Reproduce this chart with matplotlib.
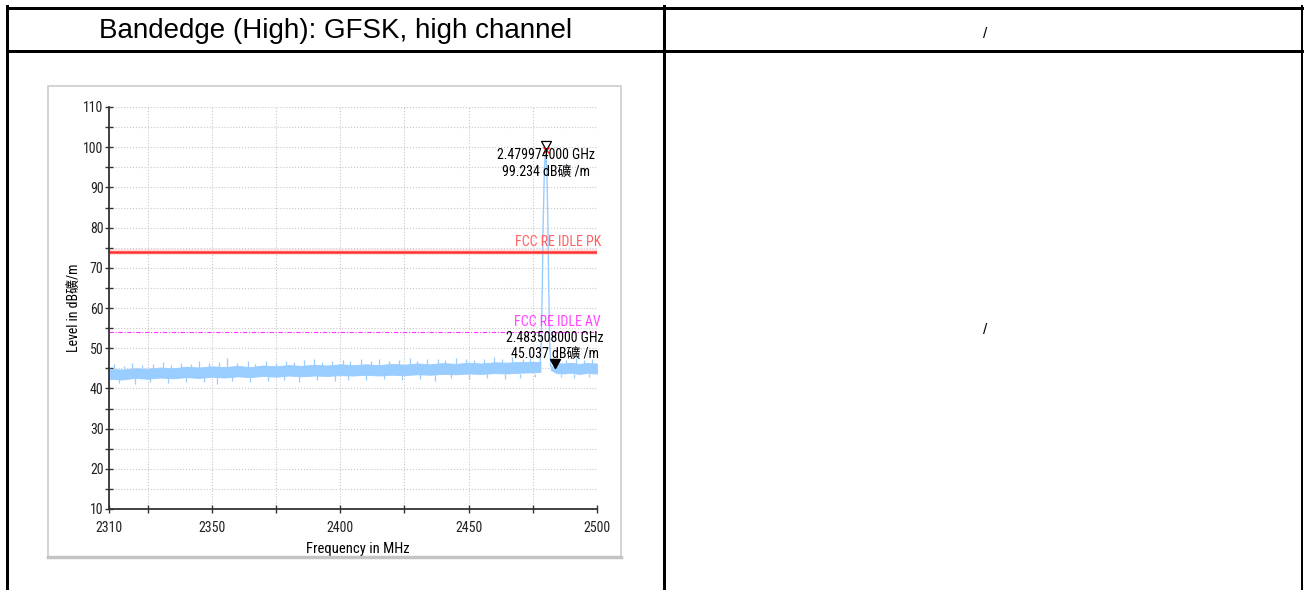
import matplotlib
matplotlib.use('Agg')
import matplotlib.pyplot as plt
from matplotlib import font_manager
from matplotlib.lines import Line2D
from matplotlib.patches import Rectangle
from matplotlib.path import Path

W, H = 1304, 590

# noise floor of the sweep, lower / upper edge of the dense part (MHz, dBuV/m)
noise_freq = [2310, 2315, 2320, 2325, 2330, 2335, 2340, 2345, 2350, 2355, 2360, 2365,
              2370, 2375, 2380, 2385, 2390, 2395, 2400, 2405, 2410, 2415, 2420, 2425,
              2430, 2435, 2440, 2445, 2450, 2455, 2460, 2465, 2470, 2475, 2478]
noise_low = [42.4, 42.2, 42.6, 42.4, 42.7, 42.5, 42.8, 42.6, 42.9, 42.7, 43.0, 42.8,
             43.1, 42.9, 43.2, 43.0, 43.2, 43.1, 43.3, 43.2, 43.4, 43.2, 43.4, 43.3,
             43.5, 43.4, 43.6, 43.5, 43.7, 43.6, 43.8, 43.7, 43.9, 44.0, 44.1]
noise_high = [44.9, 44.7, 45.0, 44.9, 45.2, 45.0, 45.4, 45.2, 45.5, 45.3, 45.6, 45.3,
              45.7, 45.5, 45.8, 45.6, 45.9, 45.7, 46.0, 45.8, 46.0, 45.8, 46.1, 45.9,
              46.2, 46.0, 46.3, 46.1, 46.4, 46.2, 46.5, 46.4, 46.6, 46.6, 46.6]

# noise floor above the band edge
upper_freq = [2482.0, 2483.0, 2484.0, 2487, 2490, 2493, 2496, 2500]
upper_low = [44.5, 44.3, 43.8, 43.7, 43.9, 43.6, 43.8, 43.7]
upper_high = [45.6, 45.4, 46.3, 46.2, 46.4, 46.1, 46.3, 46.2]

# single spikes sticking out of the noise
spike_freq = [2312, 2316, 2319, 2323, 2327, 2331, 2334, 2338, 2342, 2345, 2349, 2353,
              2356, 2360, 2364, 2367, 2371, 2375, 2379, 2382, 2386, 2390, 2393, 2397,
              2401, 2404, 2408, 2412, 2415, 2419, 2423, 2427, 2430, 2434, 2438, 2441,
              2445, 2449, 2452, 2456, 2460, 2463, 2467, 2471, 2474, 2485, 2488, 2492,
              2495, 2498]
spike_top = [46.0, 45.6, 46.3, 45.8, 46.1, 46.6, 45.9, 46.4, 46.0, 46.9, 46.2, 46.5,
             47.6, 46.3, 46.7, 46.1, 46.8, 46.4, 46.9, 46.5, 47.0, 47.3, 46.6, 46.9,
             47.1, 46.7, 47.4, 46.8, 47.2, 46.9, 47.0, 47.5, 46.9, 47.2, 47.3, 47.0,
             47.6, 47.4, 47.1, 47.3, 47.7, 47.2, 47.9, 47.4, 47.6, 47.3, 47.0, 47.5,
             47.1, 47.3]
dip_freq = [2314, 2320, 2326, 2333, 2340, 2347, 2352, 2358, 2365, 2372, 2378, 2384,
            2391, 2398, 2403, 2410, 2417, 2424, 2431, 2437, 2443, 2450, 2457, 2464,
            2470, 2476, 2486, 2491, 2497]
dip_low = [41.3, 41.0, 41.6, 41.4, 41.7, 41.5, 41.2, 41.8, 41.6, 41.9, 42.0, 41.7,
           42.1, 41.9, 42.2, 42.0, 42.3, 42.1, 42.4, 41.8, 42.5, 42.3, 42.6, 42.4,
           42.7, 42.8, 42.9, 42.6, 42.8]

# carrier at the high channel
peak_freq = [2477.9, 2478.3, 2478.7, 2479.0, 2479.5, 2479.974, 2480.5, 2480.9, 2481.2, 2481.6, 2482.0]
peak_level = [46.5, 52.0, 65.0, 80.0, 94.0, 99.234, 94.0, 80.0, 65.0, 52.0, 45.5]

limit_names = ['FCC RE IDLE PK', 'FCC RE IDLE AV']
limit_levels = [74.0, 54.0]

marker_freq = [2479.974, 2483.508]
marker_level = [99.234, 45.037]

x_major = [2310, 2350, 2400, 2450, 2500]
x_minor = [2325, 2375, 2425, 2475]

TRACE = '#99ccff'
UNIT = 'dB礦'

# narrow font for the chart if one is around, otherwise plain Liberation Sans
names = {f.name for f in font_manager.fontManager.ttflist}
condensed = any(f.name == 'DejaVu Sans' and 'condensed' in str(f.stretch)
                for f in font_manager.fontManager.ttflist)
narrow = None
for cand in ['Liberation Sans Narrow', 'Arial Narrow', 'Roboto Condensed', 'Open Sans Condensed']:
    if cand in names:
        narrow = cand
        break
if narrow:
    CHART_FONT = dict(family=[narrow, 'Noto Sans CJK SC'], size=10)
elif condensed:
    CHART_FONT = dict(family=['DejaVu Sans', 'Noto Sans CJK SC'], stretch='condensed', size=8.5)
else:
    CHART_FONT = dict(family=['Liberation Sans', 'Noto Sans CJK SC'], size=9)


def fx(x):
    return x / W


def fy(y):
    return 1 - y / H


fig = plt.figure(figsize=(W / 100, H / 100), dpi=100)

# table grid around the plot
table_lines = [((7, 7.5), (1302, 7.5), 3), ((7, 51), (1302, 51), 3),
               ((7, 6), (7, 590), 3), ((664, 6), (664, 590), 3),
               ((1302, 6), (1302, 590), 2)]
for (x0, y0), (x1, y1), w in table_lines:
    fig.add_artist(Line2D([fx(x0), fx(x1)], [fy(y0), fy(y1)], color='black',
                          lw=w * 0.72, solid_capstyle='projecting', transform=fig.transFigure))

fig.text(fx(336), fy(31), 'Bandedge (High): GFSK, high channel', fontsize=20,
         family='Liberation Sans', ha='center', va='center')
fig.text(fx(985), fy(34), '/', fontsize=11, family='Liberation Sans', ha='center', va='center')
fig.text(fx(985), fy(330), '/', fontsize=11, family='Liberation Sans', ha='center', va='center')

# light frame of the exported chart image
fig.add_artist(Rectangle((fx(48), fy(557)), fx(621 - 48), fy(86) - fy(557), fill=False,
                         ec='#cccccc', lw=1.2, transform=fig.transFigure))
fig.add_artist(Line2D([fx(48), fx(621)], [fy(557), fy(557)], color='#c4c4c4', lw=2.5,
                      transform=fig.transFigure))

ax = fig.add_axes([fx(109), fy(509), fx(597 - 109), fy(107) - fy(509)])
ax.set_xlim(2310, 2500)
ax.set_ylim(10, 110)

ax.fill_between(noise_freq, noise_low, noise_high, color=TRACE, lw=0.6, ec=TRACE)
ax.fill_between(upper_freq, upper_low, upper_high, color=TRACE, lw=0.6, ec=TRACE)
ax.vlines(spike_freq, 45.0, spike_top, color=TRACE, lw=0.9)
ax.vlines(dip_freq, dip_low, 43.5, color=TRACE, lw=0.9)
ax.plot(peak_freq, peak_level, color=TRACE, lw=1)

for name, lvl in zip(limit_names, limit_levels):
    if name.endswith('PK'):
        ax.axhline(lvl, color='#ff9999', lw=4, alpha=0.35)
        ax.axhline(lvl, color='#ff3333', lw=1.8)
        col = '#ff6060'
    else:
        ax.axhline(lvl, color='#ff33ff', lw=0.8, ls=(0, (4, 1.5, 1, 1.5)))
        col = '#ff44ff'
    ax.annotate(name, (2500, lvl), xytext=(4, 3), textcoords='offset pixels',
                ha='right', va='bottom', color=col, annotation_clip=False, **CHART_FONT)

# markers: triangle with its apex on the measured point
tri = Path([(0, 0), (-0.55, 1), (0.55, 1), (0, 0)],
           [Path.MOVETO, Path.LINETO, Path.LINETO, Path.CLOSEPOLY])
ax.plot(marker_freq[0], marker_level[0], marker=tri, ms=13, mfc='white', mec='black', mew=0.9)
ax.plot(marker_freq[0], marker_level[0], marker='x', ms=4, color='red', mew=1)
ax.plot(marker_freq[1], marker_level[1], marker=tri, ms=13, mfc='black', mec='black')

text_offsets = [(-5, -22), (30, 14)]
for f, lvl, offs in zip(marker_freq, marker_level, text_offsets):
    lines = [f'{f / 1000:.9f} GHz', f'{lvl:.3f} {UNIT} /m']
    for txt, dy in zip(lines, offs):
        ax.annotate(txt, (f, lvl), xytext=(0, dy), textcoords='offset pixels',
                    ha='center', va='center', **CHART_FONT)

ax.set_xticks(x_major)
ax.set_xticks(x_minor, minor=True)
ax.set_yticks(range(10, 111, 10))
ax.set_yticks(range(15, 110, 10), minor=True)
ax.grid(True, which='both', color='#c8c8c8', ls=':', lw=0.8)
ax.set_axisbelow(True)

for side in ['top', 'right']:
    ax.spines[side].set_visible(False)
for side in ['left', 'bottom']:
    ax.spines[side].set_color('#333333')
    ax.spines[side].set_linewidth(1.3)

ax.tick_params(which='both', direction='inout', length=6, width=1, color='#333333',
               labelcolor='#222222')
ax.tick_params(axis='x', pad=6)
ax.tick_params(axis='y', pad=1)
for lab in ax.get_xticklabels() + ax.get_yticklabels():
    lab.set_family(CHART_FONT['family'])
    lab.set_size(CHART_FONT['size'])
    if 'stretch' in CHART_FONT:
        lab.set_stretch(CHART_FONT['stretch'])

ax.set_xlabel('Frequency in MHz', **CHART_FONT)
ax.set_ylabel('Level in ' + UNIT + '/m', **CHART_FONT)
ax.xaxis.label.set_size(CHART_FONT['size'] + 0.5)
ax.xaxis.set_label_coords((358 - 109) / 488, -(549 - 509) / 402)
ax.yaxis.set_label_coords(-(109 - 74) / 488, 0.5)
ax.xaxis.label.set_va('center')
ax.yaxis.label.set_va('center')

fig.savefig('out.png', dpi=100)
